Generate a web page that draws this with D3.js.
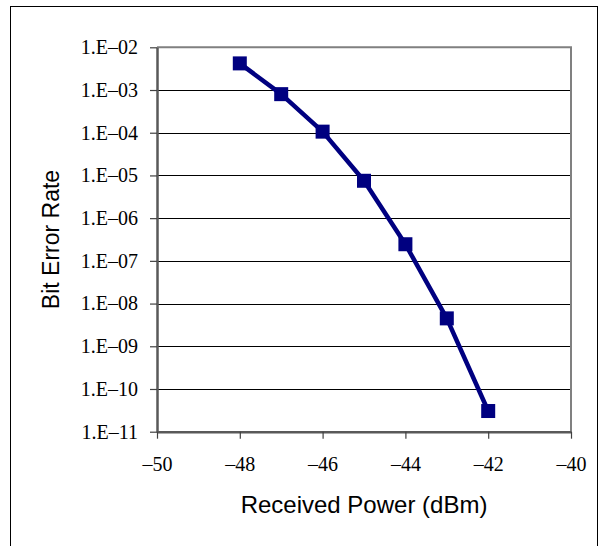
<!DOCTYPE html>
<html>
<head>
<meta charset="utf-8">
<script src="https://cdn.jsdelivr.net/npm/d3@7"></script>
<style>
  html, body { margin: 0; padding: 0; background: #fff; }
  svg { display: block; }
</style>
</head>
<body>
<svg id="chart" width="600" height="546"></svg>
<script>
// Received optical power (dBm) and the measured bit error rate at each level
const powerDbm = [-48, -47, -46, -45, -44, -43, -42];
const bitErrorRate = [4.2e-3, 8.0e-4, 1.06e-4, 7.5e-6, 2.45e-7, 4.5e-9, 3.05e-11];

// Axis ticks
const xTicks = [-50, -48, -46, -44, -42, -40];
const yTickExponents = [-2, -3, -4, -5, -6, -7, -8, -9, -10, -11];

const xTitle = "Received Power (dBm)";
const yTitle = "Bit Error Rate";

const svg = d3.select("#chart");
const plot = { left: 157, right: 571, top: 47.3, bottom: 431.7 };

// Outer chart frame (bottom edge lies below the visible area)
svg.append("rect")
  .attr("x", 10.5).attr("y", 6.5)
  .attr("width", 587).attr("height", 600)
  .attr("fill", "#fff").attr("stroke", "#000").attr("stroke-width", 1);

const x = d3.scaleLinear().domain([-50, -40]).range([plot.left, plot.right]);
const y = d3.scaleLog().domain([1e-11, 1e-2]).range([plot.bottom, plot.top]);

const minus = s => s.replace("-", "\u2013");
const fmtY = e => "1.E" + (e < 0 ? "\u2013" : "+") + String(Math.abs(e)).padStart(2, "0");

// Horizontal gridlines at each decade
svg.append("g").selectAll("line")
  .data(yTickExponents.filter(e => e !== -11 && e !== -2))
  .join("line")
  .attr("x1", plot.left).attr("x2", plot.right)
  .attr("y1", e => Math.round(y(Math.pow(10, e))) + 0.5)
  .attr("y2", e => Math.round(y(Math.pow(10, e))) + 0.5)
  .attr("stroke", "#000").attr("stroke-width", 1);

// Plot-area border: top and right edges
svg.append("path")
  .attr("d", `M${plot.left},${plot.top}H${plot.right}V${plot.bottom}`)
  .attr("fill", "none").attr("stroke", "#808080").attr("stroke-width", 2);

// Y axis
const yAxis = d3.axisLeft(y)
  .tickValues(yTickExponents.map(e => Math.pow(10, e)))
  .tickFormat(v => fmtY(Math.round(Math.log10(v))))
  .tickSizeInner(7).tickSizeOuter(0).tickPadding(12);
const gy = svg.append("g").attr("transform", `translate(${plot.left},0)`).call(yAxis);
gy.select(".domain").attr("stroke", "#595959").attr("stroke-width", 2.5);
gy.selectAll(".tick line").attr("stroke", "#404040").attr("stroke-width", 1.2);
gy.selectAll(".tick text")
  .attr("font-family", "'Liberation Serif', 'Times New Roman', serif")
  .attr("font-size", 20).attr("fill", "#000");

// X axis
const xAxis = d3.axisBottom(x)
  .tickValues(xTicks)
  .tickFormat(v => minus(String(v)))
  .tickSizeInner(7).tickSizeOuter(0).tickPadding(18);
const gx = svg.append("g").attr("transform", `translate(0,${plot.bottom})`).call(xAxis);
gx.select(".domain").attr("stroke", "#595959").attr("stroke-width", 2.5);
gx.selectAll(".tick line").attr("stroke", "#404040").attr("stroke-width", 1.2);
gx.selectAll(".tick text")
  .attr("font-family", "'Liberation Serif', 'Times New Roman', serif")
  .attr("font-size", 20).attr("fill", "#000");

// Data series
const pts = powerDbm.map((p, i) => ({ p, ber: bitErrorRate[i] }));
svg.append("path")
  .datum(pts)
  .attr("d", d3.line().x(d => x(d.p)).y(d => y(d.ber)))
  .attr("fill", "none").attr("stroke", "#000080")
  .attr("stroke-width", 4.5).attr("stroke-linejoin", "round");

const ms = 14;
svg.append("g").selectAll("rect")
  .data(pts)
  .join("rect")
  .attr("x", d => x(d.p) - ms / 2)
  .attr("y", d => y(d.ber) - ms / 2)
  .attr("width", ms).attr("height", ms)
  .attr("fill", "#000080");

// Axis titles
svg.append("text")
  .attr("x", (plot.left + plot.right) / 2).attr("y", 513)
  .attr("text-anchor", "middle")
  .attr("font-family", "'Liberation Sans', Arial, sans-serif")
  .attr("font-size", 24).attr("fill", "#000")
  .text(xTitle);

svg.append("text")
  .attr("transform", `translate(59,${(plot.top + plot.bottom) / 2}) rotate(-90)`)
  .attr("text-anchor", "middle")
  .attr("font-family", "'Liberation Sans', Arial, sans-serif")
  .attr("font-size", 23).attr("fill", "#000")
  .text(yTitle);
</script>
</body>
</html>
